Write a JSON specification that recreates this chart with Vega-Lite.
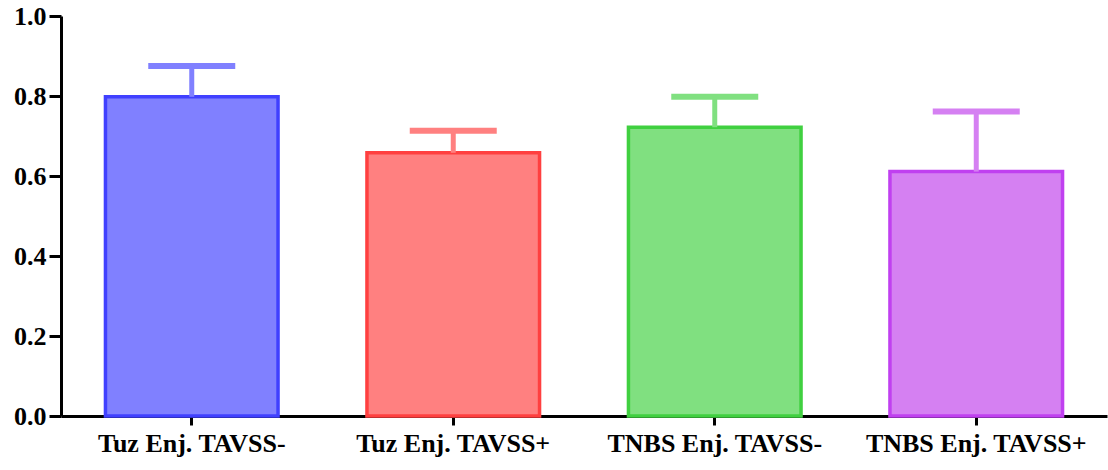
{
  "$schema": "https://vega.github.io/schema/vega-lite/v6.json",
  "autosize": "none",
  "padding": {"left": 61, "top": 16, "right": 1, "bottom": 54},
  "width": 1046,
  "height": 400,
  "background": "white",
  "config": {
    "view": {"stroke": null},
    "axis": {
      "labelFont": "'Liberation Serif', 'Times New Roman', Times, serif", "labelFontWeight": "bold", "labelFontSize": 26, "labelColor": "black",
      "labelLimit": 0,
      "domainColor": "black", "domainWidth": 3,
      "tickColor": "black", "tickWidth": 3, "grid": false, "title": null
    }
  },
  "data": {"values": [
    {"group": "Tuz Enj. TAVSS-", "mean": 0.798, "upper": 0.875},
    {"group": "Tuz Enj. TAVSS+", "mean": 0.658, "upper": 0.713},
    {"group": "TNBS Enj. TAVSS-", "mean": 0.722, "upper": 0.798},
    {"group": "TNBS Enj. TAVSS+", "mean": 0.611, "upper": 0.761}
  ]},
  "encoding": {
    "x": {
      "field": "group", "type": "nominal", "sort": null,
      "scale": {"paddingInner": 0.34, "paddingOuter": 0.17},
      "axis": {"labelAngle": 0, "labelPadding": 5, "tickSize": 9}
    },
    "color": {
      "field": "group", "type": "nominal", "sort": null, "legend": null,
      "scale": {
        "domain": ["Tuz Enj. TAVSS-", "Tuz Enj. TAVSS+", "TNBS Enj. TAVSS-", "TNBS Enj. TAVSS+"],
        "range": ["#8080FF", "#FF8080", "#80E080", "#D580F2"]
      }
    }
  },
  "layer": [
    {
      "mark": {"type": "bar", "strokeWidth": 3.5, "opacity": 1},
      "encoding": {
        "y": {
          "field": "mean", "type": "quantitative",
          "scale": {"domain": [0, 1], "nice": false},
          "axis": {"values": [0, 0.2, 0.4, 0.6, 0.8, 1.0], "format": ".1f", "labelPadding": 3, "tickSize": 12}
        },
        "stroke": {
          "field": "group", "type": "nominal", "sort": null, "legend": null,
          "scale": {
            "domain": ["Tuz Enj. TAVSS-", "Tuz Enj. TAVSS+", "TNBS Enj. TAVSS-", "TNBS Enj. TAVSS+"],
            "range": ["#4040FF", "#FF4040", "#40D040", "#C040F0"]
          }
        }
      }
    },
    {
      "mark": {"type": "rule", "strokeWidth": 5},
      "encoding": {
        "y": {"field": "mean", "type": "quantitative"},
        "y2": {"field": "upper"}
      }
    },
    {
      "mark": {"type": "tick", "size": 87, "thickness": 6, "opacity": 1},
      "encoding": {
        "y": {"field": "upper", "type": "quantitative"}
      }
    }
  ]
}
